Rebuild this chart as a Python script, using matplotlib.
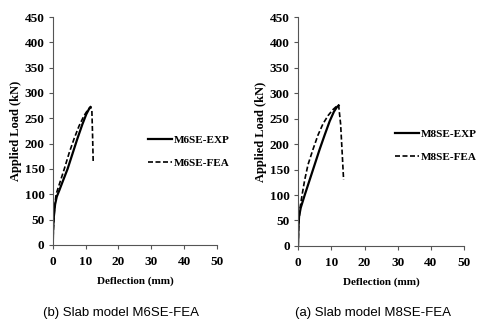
import numpy as np
import matplotlib; matplotlib.use('Agg')
import matplotlib.pyplot as plt

# M6SE (left panel)
m6_exp_x = [0, 0.1, 0.3, 0.7, 1.2, 2.0, 3.0, 4.5, 6.0, 7.5, 9.0, 10.2, 11.0, 11.5]
m6_exp_y = [0, 30, 55, 80, 95, 108, 125, 150, 180, 210, 238, 258, 268, 272]
m6_fea_x = [0, 0.2, 0.5, 1.0, 2.0, 3.5, 5.0, 6.5, 8.0, 9.5, 10.8, 11.5, 11.9, 12.1, 12.3]
m6_fea_y = [0, 35, 70, 100, 120, 150, 182, 210, 235, 255, 268, 273, 265, 220, 165]

# M8SE (right panel)
m8_exp_x = [0, 0.1, 0.3, 0.8, 2.0, 3.5, 5.0, 6.5, 8.0, 9.5, 10.8, 11.7, 12.2]
m8_exp_y = [0, 35, 58, 75, 100, 130, 160, 190, 218, 245, 264, 273, 276]
m8_fea_x = [0, 0.2, 0.6, 1.2, 2.0, 3.0, 4.5, 6.0, 7.5, 9.0, 10.5, 11.5, 12.2, 12.8, 13.3, 13.7]
m8_fea_y = [0, 45, 75, 100, 130, 160, 190, 218, 240, 256, 268, 274, 277, 240, 180, 130]

xticks = [0, 10, 20, 30, 40, 50]
yticks = list(range(0, 451, 50))

serif = 'Liberation Serif'
fig = plt.figure(figsize=(4.8, 3.27), dpi=100)

panels = [
    ([0.110, 0.251, 0.342, 0.697], m6_exp_x, m6_exp_y, m6_fea_x, m6_fea_y,
     'M6SE-EXP', 'M6SE-FEA', '(b) Slab model M6SE-FEA', (0.545, 0.41), 0.252),
    ([0.621, 0.248, 0.346, 0.700], m8_exp_x, m8_exp_y, m8_fea_x, m8_fea_y,
     'M8SE-EXP', 'M8SE-FEA', '(a) Slab model M8SE-FEA', (0.55, 0.44), 0.777),
]

for rect, ex, ey, fx, fy, le, lf, cap, lpos, capx in panels:
    ax = fig.add_axes(rect)
    ax.plot(ex, ey, color='black', lw=1.6, label=le)
    ax.plot(fx, fy, color='black', lw=1.2, ls=(0, (3, 1.5)), label=lf)
    ax.set_xlim(0, 50); ax.set_ylim(0, 450)
    ax.set_xticks(xticks); ax.set_yticks(yticks)
    for s in ['top', 'right']:
        ax.spines[s].set_visible(False)
    for s in ['left', 'bottom']:
        ax.spines[s].set_color('#555555'); ax.spines[s].set_linewidth(0.8)
    ax.tick_params(length=3, width=0.8, color='#555555', labelsize=9.5)
    ax.tick_params(axis='x', pad=5)
    ax.tick_params(axis='y', pad=3)
    for lab in ax.get_xticklabels() + ax.get_yticklabels():
        lab.set_fontfamily(serif); lab.set_fontweight('bold')
    ax.set_xlabel('Deflection (mm)', fontfamily=serif, fontweight='bold', fontsize=8, labelpad=6)
    ax.set_ylabel('Applied Load (kN)', fontfamily=serif, fontweight='bold', fontsize=9, labelpad=2)
    ax.legend(loc='center left', bbox_to_anchor=lpos, frameon=False, handlelength=2.2,
              handletextpad=0.1, labelspacing=1.2, borderpad=0,
              prop={'family': serif, 'weight': 'bold', 'size': 8})
    fig.text(capx, 0.043, cap, ha='center', va='center', fontfamily='Liberation Sans', fontsize=9.5)

fig.savefig('out.png', dpi=100)
